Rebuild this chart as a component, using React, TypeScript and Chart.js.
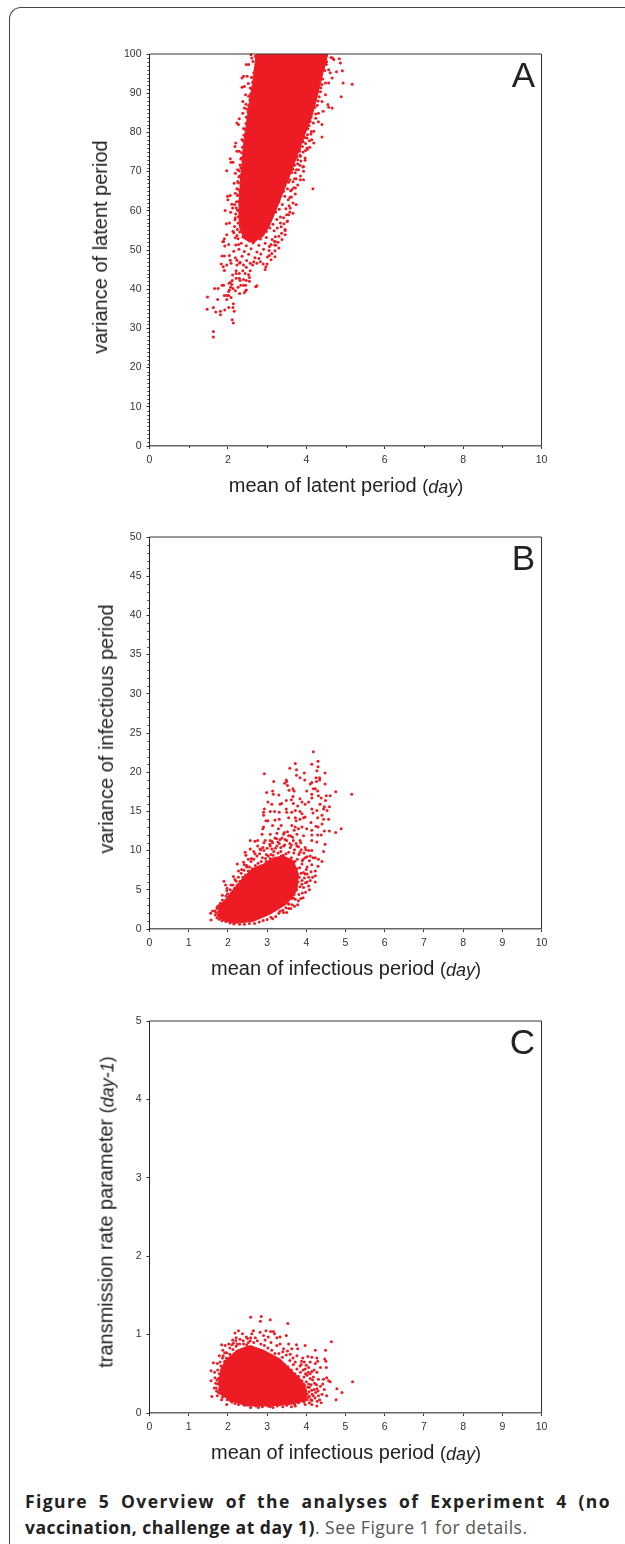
import React, { useEffect, useRef } from "react";
import { Chart, registerables } from "chart.js";

Chart.register(...registerables);

type Pt = [number, number];

const RED = "#ED1C24";
const FONT = '"Liberation Sans", Arial, sans-serif';

// Panel A: dense body outline, then individually read points
const latentBody: Pt[] = [
  [2.72, 100], [2.68, 96], [2.62, 92], [2.55, 88], [2.5, 84], [2.44, 80], [2.39, 76], [2.36, 72], [2.32, 68],
  [2.3, 64], [2.28, 60], [2.29, 56], [2.4, 53], [2.56, 52], [2.74, 52.5], [2.9, 53.5], [3.05, 56], [3.2, 59.5], [3.32, 62.5],
  [3.46, 66], [3.62, 70], [3.8, 75], [3.98, 80], [4.14, 84], [4.3, 90], [4.42, 95], [4.55, 100],
];
const latentEdge: Pt[] = [
  [2.74, 99.1], [2.8, 98.2], [2.72, 97.4], [2.77, 96.6], [2.69, 95.9], [2.75, 95.1], [2.66, 94.2], [2.71, 93.6],
  [2.63, 92.8], [2.7, 92.1], [2.6, 91.2], [2.66, 90.6], [2.58, 89.8], [2.64, 89], [2.56, 88.3], [2.62, 87.5],
  [2.53, 86.8], [2.6, 86.1], [2.51, 85.2], [2.57, 84.5], [2.47, 83.9], [2.54, 83.1], [2.46, 82.3], [2.52, 81.5],
  [2.43, 80.8], [2.5, 80.1], [2.41, 79.3], [2.47, 78.6], [2.39, 77.8], [2.46, 77], [2.37, 76.2], [2.43, 75.5],
  [2.35, 74.8], [2.42, 74], [2.33, 73.2], [2.4, 72.5], [2.31, 71.7], [2.38, 71], [2.29, 70.2], [2.36, 69.4],
  [2.28, 68.6], [2.35, 67.9], [2.27, 67.1], [2.34, 66.3], [2.26, 65.5], [2.32, 64.7], [2.24, 63.9], [2.31, 63.1],
  [2.22, 62.3], [2.3, 61.6], [2.21, 60.8], [2.28, 60], [2.2, 59.2], [2.27, 58.5], [2.18, 57.7], [2.26, 56.9],
  [2.17, 56], [2.24, 55.2], [2.15, 54.4], [2.23, 53.7], [4.46, 99.3], [4.38, 98.6], [4.52, 98], [4.41, 97.2],
  [4.34, 96.4], [4.47, 95.8], [4.36, 95], [4.29, 94.3], [4.42, 93.6], [4.31, 92.8], [4.24, 92.1], [4.37, 91.4],
  [4.27, 90.6], [4.2, 89.9], [4.33, 89.1], [4.22, 88.4], [4.15, 87.6], [4.28, 86.9], [4.17, 86.1], [4.1, 85.4],
  [4.24, 84.7], [4.12, 83.9], [4.05, 83.2], [4.18, 82.4], [4.07, 81.7], [4.0, 80.9], [4.13, 80.2], [4.03, 79.4],
  [3.96, 78.7], [4.08, 77.9], [3.98, 77.2], [3.9, 76.4], [4.03, 75.7], [3.92, 75], [3.84, 74.2], [3.97, 73.5],
  [3.86, 72.7], [3.78, 72], [3.91, 71.2], [3.8, 70.5], [3.72, 69.7], [3.85, 68.9], [3.74, 68.2], [3.66, 67.4],
  [3.78, 66.6], [3.68, 65.9], [3.6, 65.1], [3.72, 64.3], [3.62, 63.5], [3.54, 62.8], [3.66, 62], [3.56, 61.3],
  [3.48, 60.5], [3.58, 59.7], [3.5, 59], [3.42, 58.2], [3.52, 57.4], [3.43, 56.7], [3.36, 55.9], [3.46, 55],
  [3.37, 54.3], [3.3, 53.5], [3.38, 52.7], [3.28, 52], [3.22, 51.2], [3.3, 50.5], [3.2, 49.8], [3.12, 49.1],
  [3.2, 48.3], [3.1, 47.5], [2.31, 46.9], [2.48, 47.3], [2.63, 46.2], [2.79, 47.8], [2.9, 46.4], [2.19, 48],
  [2.36, 48.4], [2.53, 48.9], [2.69, 48], [2.84, 49], [3.01, 48.2], [2.15, 49.7], [2.28, 50.2], [2.42, 49.6],
  [2.59, 50.3], [2.74, 49.5], [2.91, 50.2], [3.05, 49.9], [2.2, 51.3], [2.34, 51.7], [2.47, 51.1], [2.64, 51.8],
  [2.79, 51.2], [2.95, 51.7], [3.1, 51.4], [2.26, 52.9], [2.38, 53.3], [2.52, 52.6], [2.67, 52.2], [2.83, 52.8],
  [2.98, 53.2], [3.13, 52.7], [3.21, 53.4], [2.3, 54.6], [2.41, 55.3], [2.98, 54.7], [3.07, 55.6], [3.18, 54.9],
  [3.26, 55.6], [2.33, 56.2], [2.39, 57.6], [3.05, 57.2], [3.15, 56.6], [3.25, 57.8], [3.34, 58.4], [2.31, 58.6],
  [3.13, 58.9], [3.22, 59.7], [3.31, 60.4], [3.39, 61.6], [3.3, 62.4], [3.45, 63.7], [3.36, 64.7], [3.52, 65.6],
  [3.44, 66.4], [3.58, 67.9], [3.49, 68.7], [3.63, 69.8], [3.55, 70.6], [3.7, 71.6], [3.62, 72.6], [3.76, 73.8],
  [3.69, 74.4], [3.83, 75.9], [3.76, 76.7], [3.9, 78], [3.84, 78.5], [3.96, 80.2], [3.91, 81.1], [4.02, 82.4],
  [4.0, 83.8], [4.08, 85.5], [4.12, 87.3], [4.18, 90.3], [4.22, 92.7], [4.28, 95.6], [4.35, 97.9], [4.4, 99.5],
];
const latentPoints: Pt[] = [
  [1.63, 29.2], [1.63, 27.8], [1.48, 38], [1.47, 34.9], [1.63, 35.3], [1.69, 34.2], [1.81, 34.4], [1.81, 33.5],
  [1.92, 34.7], [2.02, 35.3], [2.14, 36.3], [2.13, 35.3], [2.16, 34.4], [2.11, 32.2], [2.14, 31.4], [1.74, 37.4],
  [1.66, 40.2], [1.75, 40.2], [1.85, 41], [1.89, 41], [1.91, 38.4], [1.97, 37.4], [1.97, 38.4], [2.02, 38.4],
  [2.08, 37.9], [2.02, 39.4], [2.04, 39.8], [2.07, 40.5], [2.13, 40.2], [2.19, 39.6], [2.26, 40.5], [2.3, 38.9],
  [2.42, 39.1], [2.45, 39.6], [2.47, 39.8], [2.33, 41], [2.4, 41], [2.45, 41], [2.71, 40.6], [2.74, 40.9],
  [2.03, 41.5], [2.06, 41.7], [2.11, 42.2], [2.1, 41.2], [2.21, 42.8], [2.29, 42.8], [2.31, 42.2], [2.4, 42.5],
  [2.47, 42.2], [2.55, 43], [2.55, 42], [2.12, 43.6], [2.21, 44], [2.29, 44], [2.38, 44.7], [2.44, 44],
  [2.53, 43.7], [2.57, 44.7], [2.21, 44.7], [1.91, 44.8], [1.83, 46.4], [1.88, 45.7], [1.97, 46.2], [2.08, 46.6],
  [1.85, 48.5], [1.91, 48.5], [2.04, 48.6], [2.06, 47.4], [2.23, 47.4], [2.23, 46.2], [2.3, 46.6], [2.4, 46.2],
  [2.47, 45.6], [2.57, 46.6], [2.66, 47], [2.74, 46.6], [2.83, 47], [3.0, 46.4], [2.95, 45], [2.97, 45.7],
  [3.06, 48.6], [3.19, 51.3], [3.19, 52.2], [3.06, 50.9], [1.87, 52.1], [1.92, 51],
  [1.89, 52.2], [2.02, 51.4], [1.97, 53.9], [1.91, 52.9], [1.96, 56.7], [2.04, 56.9], [2.07, 59.6], [1.93, 60.1],
  [2.12, 60.7], [2, 62.8], [1.99, 63.7], [2.06, 63.9], [2.1, 61.7], [2.17, 61.6], [2.19, 64.5], [2.23, 65.6],
  [2.16, 67], [2.25, 67.5], [2.19, 69.6], [2.25, 70.5], [1.97, 70.2], [2.06, 73.3], [2.08, 72.4], [2.13, 72.4],
  [2.2, 77.3], [2.18, 76.4], [2.23, 75.2], [2.29, 75.2], [2.34, 73.5], [2.23, 82.4], [2.29, 83.5], [2.27, 82],
  [2.38, 84.9], [2.42, 86.2], [2.46, 87.2], [2.38, 87.9], [2.45, 89.6], [2.36, 91.5], [2.42, 91.7], [2.36, 93.9],
  [2.4, 94.3], [2.49, 94.3], [2.47, 97.3], [2.53, 97.3], [2.59, 99.8], [2.7, 99.4], [2.61, 99], [2.7, 96.4],
  [2.66, 95.2], [2.57, 91.3], [2.53, 89.2], [2.49, 83.7], [2.44, 79.4], [2.44, 76.9], [2.38, 73], [2.36, 68.4],
  [2.31, 65], [2.27, 62.4], [2.19, 58.2], [2.13, 54.8], [2.19, 53.1], [2.27, 51.4], [2.4, 81], [2.36, 78.2],
  [2.33, 71], [2.3, 68.9], [2.26, 64], [2.24, 60.2], [2.48, 86], [2.52, 92.5], [2.6, 94], [2.64, 98.1],
  [5.17, 92.3], [4.94, 92.6], [4.89, 89.1], [4.92, 95.7], [4.77, 95.5], [4.84, 98.8], [4.87, 97.7], [4.7, 98.6],
  [4.63, 99.1], [4.67, 99], [4.61, 95.2], [4.66, 93.9], [4.57, 92.6], [4.49, 92.6], [4.49, 89.6], [4.4, 87.9],
  [4.55, 87.1], [4.66, 86.2], [4.57, 86.4], [4.43, 85.4], [4.31, 84.9], [4.31, 82.7], [4.4, 82], [4.4, 78.8],
  [4.19, 80.3], [4.19, 77.3], [4.09, 76.2], [4.14, 78.1], [4.02, 78.6], [3.97, 72.9], [3.93, 71.3], [3.85, 73.9],
  [3.93, 70.1], [3.85, 67.9], [3.93, 67.9], [3.72, 65.8], [4.17, 65.6], [3.74, 61.6], [3.59, 60.7], [3.66, 59.4],
  [3.55, 59], [3.46, 55.2], [3.46, 53.9], [3.34, 56.9], [3.21, 52.2], [3.51, 57.3], [3.63, 65.4], [3.75, 70.5],
  [3.83, 75.2], [4.02, 76], [4.27, 91.3], [4.4, 92.2], [4.36, 93.9], [4.44, 96.4], [4.51, 97.3], [4.57, 96],
  [4.22, 86.4], [4.1, 82.8], [4.04, 80.9], [3.92, 77.6], [3.78, 73], [3.66, 70.6], [3.55, 67.3], [3.42, 65],
  [4.3, 88], [4.36, 90.4], [4.24, 83.6], [4.12, 79.6], [3.98, 75.4], [3.84, 71.6], [3.7, 68.2], [3.58, 63.4],
];

// Panel B
const infectiousBody: Pt[] = [
  [1.72, 1.7], [1.89, 1.06], [2.18, 0.72], [2.65, 0.98], [3.08, 1.9], [3.5, 3.2], [3.76, 4.9], [3.8, 7],
  [3.67, 8.7], [3.42, 9.3], [3.16, 9.1], [2.91, 8.3], [2.61, 7.65], [2.4, 6.6], [2.18, 5.3], [1.97, 4], [1.76, 2.8],
];
const infectiousEdge: Pt[] = [
  [1.72, 2.6], [1.81, 3.3], [1.77, 3.0], [1.86, 3.7], [1.91, 3.3], [1.95, 4.2], [1.99, 4.5], [2.03, 4.1], [2.06, 5],
  [2.1, 4.6], [2.13, 5.6], [2.17, 5.2], [2.21, 6.1], [2.24, 5.6], [2.27, 6.6], [2.31, 6.1], [2.34, 7.1], [2.38, 6.6],
  [2.41, 7.5], [2.45, 6.9], [2.48, 8.1], [2.52, 7.4], [2.55, 7.9], [2.59, 8.6], [2.62, 7.7], [2.66, 8.9], [2.7, 8.1],
  [2.74, 9.3], [2.77, 8.4], [2.81, 9.6], [2.85, 8.6], [2.88, 9.1], [2.92, 10], [2.96, 9], [3, 10.3], [3.03, 9.3],
  [3.07, 10.8], [3.1, 9.5], [3.14, 11], [3.17, 9.9], [3.21, 10.3], [3.24, 11.5], [3.28, 9.7], [3.31, 10.9], [3.35, 9.9],
  [3.38, 11.6], [3.41, 9.4], [3.45, 10.7], [3.48, 9.6], [3.52, 12.4], [3.55, 9.8], [3.58, 10.9], [3.62, 9.1], [3.65, 11.7],
  [3.68, 9.7], [3.71, 8.6], [3.74, 10.9], [3.77, 8.9], [3.81, 9.5], [3.83, 7.8], [3.87, 10.1], [3.9, 8.7], [3.94, 9.7],
  [3.76, 7.7], [3.74, 6.9], [3.82, 6.6], [3.79, 6], [3.87, 7.1], [3.72, 5.8], [3.84, 5.4], [3.75, 5], [3.81, 4.4],
  [3.69, 4.4], [3.63, 3.9], [3.72, 3.8], [3.56, 3.2], [3.64, 3.1], [3.48, 2.7], [3.55, 2.6], [3.4, 2.4], [3.3, 2], [3.22, 1.6],
  [3.1, 1.5], [3.14, 1.3], [3.0, 1.2], [2.9, 1.1], [2.8, 0.9], [2.68, 0.7], [2.55, 0.7], [2.42, 0.6], [2.3, 0.6],
  [2.15, 0.65], [2.05, 0.75], [1.95, 0.95], [1.85, 1.05], [1.78, 1.25], [1.72, 1.45], [1.68, 1.8], [1.7, 2.1],
  [2.98, 8.6], [3.08, 9], [3.15, 9.4], [3.26, 9], [3.36, 9.3], [3.46, 9], [3.56, 8.9], [3.63, 8.2], [3.35, 10.4],
  [3.12, 10.2], [2.98, 9.5], [2.84, 10.1], [3.2, 11.6], [3.44, 12.3], [3.6, 11.9], [3.69, 12.6], [3.8, 10.5], [3.86, 11],
  [3.9, 4.6], [3.98, 5.9], [4.02, 6], [3.95, 6.5], [4, 7.6], [4.1, 6.2], [4.12, 7.3], [4.16, 6.6], [3.86, 3.9], [3.78, 3.1],
  [3.7, 2.9], [3.6, 2.6], [3.5, 2.1], [3.42, 2.1], [3.92, 4], [3.98, 4.7], [3.92, 8.9], [4.02, 9.2], [4.08, 8.7], [3.99, 10.1],
  [4.1, 9.3], [3.28, 11.1], [3.12, 11.2], [3.46, 11.4], [3.62, 10.7], [3.7, 10.1], [2.66, 9.9], [2.6, 9], [2.52, 8.9],
  [2.35, 7.6], [2.42, 8.2], [2.18, 6.3], [2.08, 5.6], [1.98, 5.2], [2.76, 10.6], [2.92, 11],
];
const infectiousPoints: Pt[] = [
  [4.18, 22.6], [4.3, 21.4], [4.3, 20.7], [4.14, 21], [3.72, 21.1], [3.58, 20.5], [3.75, 20.3], [3.75, 19.6],
  [3.95, 19.9], [4.27, 20.2], [4.48, 19.9], [2.93, 19.8], [3.84, 19.3], [3.96, 19], [4.25, 19.3], [4.34, 19.3],
  [4.34, 19], [4.26, 18.8], [4.48, 18.5], [4.14, 18.7], [4.1, 18.5], [3.49, 19], [3.5, 18.8], [3.45, 18.6],
  [3.52, 18.3], [3.17, 18.8], [3.66, 17.9], [3.69, 17.6], [3.56, 17.7], [4.18, 17.9], [4.23, 17.9], [4.29, 17.6],
  [4.01, 17.6], [4.75, 17.5], [5.16, 17.2], [4.61, 17], [4.51, 17], [4.14, 17.2], [4.31, 17], [2.99, 17.4],
  [3.14, 17.6], [3.16, 17.2], [3.3, 17.1], [3.66, 16.9], [3.62, 16.5], [3.84, 16.6], [4.14, 16.7], [4.38, 16.7],
  [4.49, 16.4], [3.49, 16.4], [3.02, 16.2], [3.12, 15.9], [3.33, 15.9], [3.37, 16], [3.67, 16], [3.78, 15.7],
  [3.89, 16.2], [3.97, 15.9], [4.06, 16.2], [4.35, 15.9], [4.46, 15.6], [4.59, 15.6], [4.53, 15.1], [4.44, 15.3],
  [2.93, 15.3], [2.91, 14.9], [2.91, 14.5], [3.08, 15], [3.19, 15], [3.31, 14.9], [3.49, 15.3], [3.5, 14.9],
  [3.63, 14.9], [3.72, 15.1], [3.84, 15], [3.89, 14.7], [4.14, 15.3], [4.27, 15.1], [4.17, 14.8], [4.4, 14.5],
  [4.44, 14], [4.57, 14], [2.97, 13.8], [3.02, 13.8], [3.2, 13.9], [3.31, 14], [3.55, 14.2], [3.72, 14.2],
  [3.93, 14.2], [3.97, 14.3], [3.84, 14], [3.74, 13.8], [4.12, 13.6], [4.29, 14.2], [4.4, 13.4], [4.89, 12.8],
  [4.75, 12.3], [4.59, 12.5], [4.46, 12.5], [4.3, 13], [4.25, 13.1], [4.14, 12.6], [4.01, 12.8], [3.89, 13],
  [3.8, 12.8], [3.72, 13], [3.63, 13.2], [3.36, 13.2], [3.29, 12.8], [3.14, 13.2], [2.89, 12.8], [2.91, 13],
  [2.87, 12.1], [3.08, 12.1], [3.25, 12.2], [3.42, 12.1], [3.55, 11.9], [3.76, 12.1], [3.93, 11.9], [4.14, 12],
  [4.29, 12], [4.38, 12], [4.48, 10.8], [4.27, 11.1], [4.14, 11.3], [4.44, 9.9], [4.4, 8.6], [4.31, 8.9],
  [4.23, 9.1], [4.3, 8], [4.23, 6.8], [4.23, 6], [4.08, 5], [4.06, 5.5], [4.14, 8.2], [4.17, 9.1], [4.14, 10],
  [4.06, 10], [3.97, 10.4], [3.84, 11.3], [3.67, 11.3], [3.5, 11.3], [3.33, 11.4], [3.08, 11.3], [2.95, 11.3],
  [2.76, 11.3], [2.57, 11.3], [2.69, 11.2], [2.89, 10.4], [3.08, 10.6], [3.25, 10.6], [3.42, 10.6], [3.59, 10.4],
  [3.76, 10.6], [2.57, 10.2], [2.82, 10.2], [2.44, 9.8], [2.46, 9.4], [2.69, 9.6], [2.4, 8.5], [2.24, 8.3],
  [2.48, 7.9], [2.27, 7.4], [2.14, 6.7], [1.9, 6.1], [1.94, 5.6], [1.97, 4.9], [1.86, 4.3], [1.67, 2.3],
  [1.56, 2], [1.61, 2.3], [1.57, 1.15], [1.84, 3.2], [1.73, 2.85], [4.23, 7.4], [4.02, 7.9], [3.97, 7],
  [3.89, 6.2], [3.89, 5.7], [3.8, 3.6], [3.55, 3.2], [3.67, 4], [3.33, 2.25], [3.84, 9.8], [3.97, 9.1],
  [4.02, 7], [4.06, 6.6], [3.93, 7.2], [3.89, 8.3], [3.93, 5.3],
];

// Panel C
const rateBody: Pt[] = [
  [1.76, 0.41], [1.8, 0.24], [2.06, 0.16], [2.48, 0.09], [2.99, 0.09], [3.59, 0.11], [4.02, 0.16], [4.0, 0.3],
  [3.84, 0.44], [3.67, 0.52], [3.33, 0.69], [2.91, 0.8], [2.57, 0.86], [2.23, 0.8], [1.93, 0.67], [1.8, 0.54],
];
const rateEdge: Pt[] = [
  [1.78, 0.5], [1.82, 0.6], [1.76, 0.44], [1.74, 0.37], [1.78, 0.3], [1.81, 0.25], [1.86, 0.2], [1.92, 0.66], [1.88, 0.56],
  [1.96, 0.7], [2.0, 0.64], [2.05, 0.75], [2.09, 0.7], [2.13, 0.81], [2.17, 0.75], [2.21, 0.85], [2.26, 0.79], [2.3, 0.88],
  [2.35, 0.81], [2.39, 0.92], [2.44, 0.83], [2.48, 0.87], [2.53, 0.82], [2.57, 0.92], [2.62, 0.84], [2.66, 0.9], [2.71, 0.82],
  [2.75, 0.92], [2.8, 0.8], [2.84, 0.88], [2.89, 0.79], [2.93, 0.86], [2.98, 0.76], [3.02, 0.83], [3.07, 0.74], [3.12, 0.8],
  [3.16, 0.7], [3.2, 0.76], [3.25, 0.68], [3.3, 0.76], [3.35, 0.65], [3.39, 0.71], [3.44, 0.62], [3.49, 0.74], [3.53, 0.59],
  [3.58, 0.67], [3.62, 0.55], [3.67, 0.62], [3.71, 0.5], [3.76, 0.56], [3.8, 0.47], [3.85, 0.52], [3.89, 0.41], [3.94, 0.46],
  [3.96, 0.35], [4.0, 0.4], [3.98, 0.28], [4.04, 0.33], [4.07, 0.27], [3.97, 0.21], [4.02, 0.17], [3.94, 0.14], [3.88, 0.16],
  [3.8, 0.13], [3.7, 0.11], [3.62, 0.08], [3.5, 0.1], [3.4, 0.08], [3.26, 0.09], [3.15, 0.07], [3.02, 0.09], [2.88, 0.08],
  [2.72, 0.09], [2.58, 0.07], [2.42, 0.1], [2.3, 0.13], [2.18, 0.12], [2.06, 0.16], [1.98, 0.17], [1.92, 0.22],
  [4.1, 0.44], [4.15, 0.24], [4.21, 0.38], [4.24, 0.26], [4.05, 0.52], [4.12, 0.17], [3.87, 0.62], [4.08, 0.13],
  [4.08, 0.33], [4.12, 0.36], [4.2, 0.3], [4.16, 0.42], [4.26, 0.36], [4.3, 0.28], [4.36, 0.34], [4.22, 0.19], [4.28, 0.15],
  [4.34, 0.17], [4.1, 0.5], [4.2, 0.55], [4.06, 0.58], [4.0, 0.61], [3.92, 0.55], [3.98, 0.5], [3.88, 0.66], [4.02, 0.24],
  [4.08, 0.21], [4.14, 0.11], [4.46, 0.3], [4.38, 0.13], [1.72, 0.42], [1.69, 0.38], [1.71, 0.28], [1.66, 0.52], [1.74, 0.55],
  [1.8, 0.65], [1.86, 0.7], [1.92, 0.77], [2.05, 0.83], [2.1, 0.87], [2.2, 0.92], [2.5, 0.95], [2.7, 0.96], [2.95, 0.93],
  [3.1, 0.9], [3.25, 0.86], [3.4, 0.78], [3.52, 0.79], [3.66, 0.7], [3.72, 0.65],
];
const ratePoints: Pt[] = [
  [2.58, 1.22], [2.85, 1.23], [2.83, 1.17], [3.08, 1.19], [3.53, 1.14], [4.64, 0.91], [2.27, 1.05], [2.18, 1.02],
  [2.37, 1.01], [2.61, 1.01], [2.65, 1.05], [2.82, 1.03], [2.97, 1.05], [3.09, 1.04], [3.16, 1.04], [3.19, 1.01],
  [3.49, 0.99], [3.33, 0.97], [3.25, 0.96], [3.03, 0.97], [2.91, 0.99], [2.47, 0.97], [2.58, 0.96], [2.21, 0.96],
  [2.31, 0.94], [2.12, 0.93], [1.84, 0.87], [1.93, 0.86], [2.02, 0.88], [2.14, 0.89], [2.24, 0.88], [2.4, 0.88],
  [2.52, 0.9], [3.33, 0.88], [3.55, 0.88], [3.75, 0.87], [3.97, 0.86], [4.49, 0.8], [4.23, 0.8], [3.78, 0.82],
  [3.63, 0.82], [3.42, 0.82], [1.87, 0.8], [1.78, 0.73], [1.63, 0.64], [1.73, 0.63], [1.88, 0.73], [1.97, 0.77],
  [4.04, 0.72], [4.14, 0.71], [4.27, 0.7], [4.29, 0.66], [4.47, 0.69], [4.5, 0.66], [3.91, 0.7], [3.95, 0.65],
  [4.1, 0.65], [4.23, 0.63], [4.36, 0.58], [4.51, 0.58], [3.76, 0.73], [3.59, 0.75], [3.84, 0.6], [3.97, 0.56],
  [4.14, 0.53], [4.27, 0.52], [4.02, 0.48], [4.18, 0.46], [4.31, 0.43], [4.44, 0.43], [4.57, 0.41], [4.52, 0.45],
  [4.42, 0.37], [4.61, 0.4], [5.18, 0.4], [4.78, 0.31], [4.91, 0.26], [4.76, 0.17], [4.52, 0.22], [4.4, 0.24],
  [4.27, 0.31], [4.14, 0.29], [4.31, 0.22], [4.18, 0.22], [4.06, 0.2], [4.14, 0.16], [4.27, 0.09], [3.97, 0.11],
  [3.72, 0.09], [1.57, 0.54], [1.57, 0.41], [1.67, 0.45], [1.65, 0.32], [1.7, 0.32], [1.59, 0.21], [1.73, 0.22],
  [1.84, 0.17], [1.97, 0.11], [2.1, 0.14], [2.27, 0.11], [2.78, 0.07], [3.08, 0.08], [3.33, 0.11], [1.76, 0.26],
  [1.93, 0.22], [3.93, 0.37], [4.06, 0.37], [3.84, 0.24], [3.97, 0.29], [3.76, 0.16],
];

type PanelSpec = {
  top: number; yMax: number; yStep: number; yMinor: number[]; xStep: number; xMinor: number[];
  body: Pt[]; edge: Pt[]; points: Pt[]; letter: string;
  xText: string; xTop: number; yText: string; yUnit: string; yCx: number; yCy: number;
};

const yMinorA = [1,2,3,4,5,6,7,8,9,11,12,13,14,15,16,17,18,19,21,22,23,24,25,26,27,28,29,31,32,33,34,35,36,37,38,39,41,42,43,44,45,46,47,48,49,51,52,53,54,55,56,57,58,59,61,62,63,64,65,66,67,68,69,71,72,73,74,75,76,77,78,79,81,82,83,84,85,86,87,88,89,91,92,93,94,95,96,97,98,99];
const yMinorB = [1,2,3,4,6,7,8,9,11,12,13,14,16,17,18,19,21,22,23,24,26,27,28,29,31,32,33,34,36,37,38,39,41,42,43,44,46,47,48,49];

const panels: PanelSpec[] = [
  { top: 54, yMax: 100, yStep: 10, yMinor: yMinorA, xStep: 2, xMinor: [1, 3, 5, 7, 9], body: latentBody, edge: latentEdge, points: latentPoints,
    letter: "A", xText: "mean of latent period", xTop: 485, yText: "variance of latent period", yUnit: "", yCx: 100, yCy: 247 },
  { top: 537, yMax: 50, yStep: 5, yMinor: yMinorB, xStep: 1, xMinor: [], body: infectiousBody, edge: infectiousEdge, points: infectiousPoints,
    letter: "B", xText: "mean of infectious period", xTop: 968, yText: "variance of infectious period", yUnit: "", yCx: 106, yCy: 729 },
  { top: 1021, yMax: 5, yStep: 1, yMinor: [], xStep: 1, xMinor: [], body: rateBody, edge: rateEdge, points: ratePoints,
    letter: "C", xText: "mean of infectious period", xTop: 1452, yText: "transmission rate parameter", yUnit: "day-1", yCx: 106, yCy: 1212 },
];

const PLOT_LEFT = 149.5;
const PLOT_RIGHT = 541.5;
const PLOT_H = 392;

function Panel({ spec }: { spec: PanelSpec }) {
  const ref = useRef<HTMLCanvasElement>(null);
  useEffect(() => {
    const frame = {
      id: "frame",
      afterDraw(chart: any) {
        const { ctx, chartArea: a, scales } = chart;
        ctx.save();
        ctx.lineWidth = 1;
        ctx.strokeStyle = "#333";
        ctx.beginPath();
        ctx.moveTo(a.left, a.top); ctx.lineTo(a.right, a.top);
        ctx.moveTo(a.right, a.top); ctx.lineTo(a.right, a.bottom);
        for (const v of spec.yMinor) {
          const p = Math.round(scales.y.getPixelForValue(v)) + 0.5;
          ctx.moveTo(a.left - 2, p); ctx.lineTo(a.left, p);
        }
        for (const v of spec.xMinor) {
          const p = Math.round(scales.x.getPixelForValue(v)) + 0.5;
          ctx.moveTo(p, a.bottom); ctx.lineTo(p, a.bottom + 2);
        }
        ctx.stroke();
        ctx.restore();
      },
    };
    const tick = { font: { family: FONT, size: 10.5 }, color: "#333", maxRotation: 0, autoSkip: false };
    const scatter = (pts: Pt[], label: string) => ({
      label,
      data: pts.map(([x, y]) => ({ x, y })),
      backgroundColor: RED, borderWidth: 0, pointRadius: 1.5, clip: false,
    });
    const chart = new Chart(ref.current!, {
      type: "scatter",
      data: {
        datasets: [
          scatter(spec.points, "points"),
          scatter(spec.edge, "edge points"),
          {
            label: "dense body",
            data: spec.body.map(([x, y]) => ({ x, y })),
            showLine: true, fill: "shape", tension: 0, backgroundColor: RED, borderColor: RED, borderWidth: 1, pointRadius: 0,
          },
        ],
      },
      options: {
        animation: false,
        responsive: false,
        devicePixelRatio: 1,
        layout: { padding: { left: 0, top: 6, right: 625 - PLOT_RIGHT, bottom: 0 } },
        plugins: { legend: { display: false }, title: { display: false }, tooltip: { enabled: false } },
        scales: {
          x: {
            type: "linear", min: 0, max: 10,
            afterFit(s: any) { s.height = 40; s.paddingLeft = 0; s.paddingRight = 0; },
            grid: { display: true, drawOnChartArea: false, tickLength: 3, tickColor: "#333" },
            border: { color: "#666", width: 1.5 },
            ticks: { ...tick, stepSize: spec.xStep, padding: 5 },
          },
          y: {
            type: "linear", min: 0, max: spec.yMax,
            afterFit(s: any) { s.width = PLOT_LEFT; s.paddingTop = 0; s.paddingBottom = 0; },
            grid: { display: true, drawOnChartArea: false, tickLength: 3, tickColor: "#333" },
            border: { color: "#222", width: 1 },
            ticks: { ...tick, stepSize: spec.yStep, padding: 5 },
          },
        },
      } as any,
      plugins: [frame],
    });
    return () => chart.destroy();
  }, [spec]);
  return (
    <canvas
      ref={ref}
      width={625}
      height={PLOT_H + 46}
      style={{ position: "absolute", left: 0, top: spec.top - 6, width: 625, height: PLOT_H + 46 }}
    />
  );
}

const dayStyle: React.CSSProperties = { fontStyle: "italic", position: "relative", top: 1 };
const titleStyle: React.CSSProperties = { position: "absolute", fontFamily: FONT, fontSize: 20, color: "#222", whiteSpace: "nowrap", lineHeight: "22px" };

export default function App() {
  return (
    <div style={{ position: "absolute", left: 0, top: 0, width: 625, height: 1544, overflow: "hidden", background: "#fff" }}>
      <div style={{ position: "absolute", left: 9, top: 7, width: 640, height: 1560, borderLeft: "1.5px solid #444", borderTop: "1.5px solid #444", borderTopLeftRadius: 12, boxSizing: "border-box" }} />
      {panels.map((p) => (
        <React.Fragment key={p.letter}>
          <Panel spec={p} />
          <div style={{ position: "absolute", left: 495, width: 40, textAlign: "right", top: p.top + 1, fontFamily: FONT, fontSize: 35, lineHeight: "40px", color: "#222" }}>{p.letter}</div>
          <div style={{ ...titleStyle, left: 346, top: p.xTop, transform: "translate(-50%,-50%)" }}>
            {p.xText} <span style={{ fontSize: 18 }}>(<span style={dayStyle}>day</span>)</span>
          </div>
          <div style={{ ...titleStyle, left: p.yCx, top: p.yCy, transform: "translate(-50%,-50%) rotate(-90deg)" }}>
            {p.yText}
            {p.yUnit ? <> <span style={{ fontSize: 18 }}>(<span style={dayStyle}>{p.yUnit}</span>)</span></> : null}
          </div>
        </React.Fragment>
      ))}
      <div style={{ position: "absolute", left: 25, top: 1488, width: 586, fontFamily: '"Open Sans", sans-serif', fontSize: 17.5, lineHeight: "26px", color: "#222" }}>
        <div style={{ fontWeight: 700, textAlign: "justify", textAlignLast: "justify", letterSpacing: 1.4, whiteSpace: "nowrap" }}>Figure 5 Overview of the analyses of Experiment 4 (no</div>
        <div style={{ letterSpacing: 0.5 }}><span style={{ fontWeight: 700 }}>vaccination, challenge at day 1)</span><span style={{ color: "#555" }}>. See Figure 1 for details.</span></div>
      </div>
    </div>
  );
}
